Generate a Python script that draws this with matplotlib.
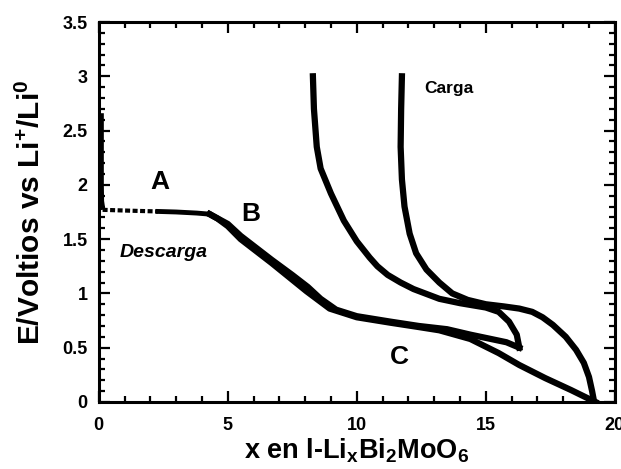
import matplotlib
matplotlib.use("Agg")
import matplotlib.pyplot as plt
from matplotlib.ticker import MultipleLocator, FixedLocator

plt.rcParams['font.family'] = ['Liberation Sans', 'DejaVu Sans']
plt.rcParams['font.weight'] = 'bold'
plt.rcParams['mathtext.fontset'] = 'custom'
plt.rcParams['mathtext.rm'] = 'Liberation Sans:bold'
plt.rcParams['mathtext.it'] = 'Liberation Sans:bold'
plt.rcParams['mathtext.bf'] = 'Liberation Sans:bold'

# ---- data ----
# discharge 1: initial drop at x=0
d1a_x = [0.09, 0.09, 0.09, 0.1, 0.15]
d1a_E = [2.66, 2.3, 2.0, 1.85, 1.77]
# discharge 1: dotted start of plateau A
d1b_x = [0.15, 0.8, 1.5, 2.3]
d1b_E = [1.77, 1.765, 1.76, 1.755]
# discharge 1: thin rest of plateau A
d1c_x = [2.3, 3.0, 3.8, 4.3]
d1c_E = [1.755, 1.75, 1.74, 1.73]
# discharge 1: main part (B, C, end)
d1_x = [4.3, 4.6, 5.0, 5.5, 6.7, 8.05, 8.95, 10.0, 11.3, 12.4, 13.2, 14.4, 15.5, 16.3, 17.3, 18.3, 18.9, 19.25]
d1_E = [1.73, 1.69, 1.62, 1.50, 1.28, 1.02, 0.86, 0.78, 0.73, 0.69, 0.66, 0.58, 0.45, 0.34, 0.22, 0.11, 0.04, 0.0]
# discharge 2
d2_x = [4.3, 5.0, 5.5, 6.7, 7.5, 8.1, 8.6, 9.2, 10.0, 11.3, 12.4, 13.5, 14.4, 15.2, 15.8, 16.3]
d2_E = [1.73, 1.64, 1.53, 1.31, 1.17, 1.06, 0.95, 0.85, 0.79, 0.74, 0.70, 0.67, 0.62, 0.58, 0.55, 0.50]
# charge 1 (outer)
c1_x = [19.2, 19.12, 19.0, 18.8, 18.5, 18.1, 17.6, 17.2, 16.8, 16.3, 15.7, 15.0, 14.3, 13.7, 13.2, 12.7, 12.3, 12.05, 11.85, 11.75, 11.7, 11.72, 11.75]
c1_E = [0.0, 0.10, 0.23, 0.36, 0.48, 0.60, 0.71, 0.78, 0.83, 0.86, 0.88, 0.90, 0.94, 1.00, 1.10, 1.22, 1.37, 1.55, 1.80, 2.05, 2.35, 2.7, 3.0]
# charge 2 (inner)
c2_x = [16.3, 16.2, 15.9, 15.5, 15.0, 14.0, 13.2, 12.2, 11.7, 11.2, 10.8, 10.5, 10.0, 9.5, 9.0, 8.6, 8.45, 8.34, 8.3]
c2_E = [0.50, 0.62, 0.74, 0.83, 0.87, 0.91, 0.95, 1.04, 1.10, 1.17, 1.25, 1.33, 1.48, 1.67, 1.92, 2.15, 2.35, 2.7, 3.0]

x_ticks = [0, 5, 10, 15, 20]
y_ticks = [0, 0.5, 1, 1.5, 2, 2.5, 3, 3.5]
y_tick_labels = ['0', '0.5', '1', '1.5', '2', '2.5', '3', '3.5']

fig = plt.figure(figsize=(6.21, 4.69), dpi=100)
ax = fig.add_axes([0.159, 0.143, 0.831, 0.810])

lw = 4.5
ax.plot(d1a_x, d1a_E, color='black', lw=4, solid_capstyle='butt', clip_on=False)
ax.plot(d1b_x, d1b_E, color='black', lw=3, linestyle=(0, (1.2, 0.6)))
ax.plot(d1c_x, d1c_E, color='black', lw=3.5)
ax.plot(d1_x, d1_E, color='black', lw=lw, solid_joinstyle='round')
ax.plot(d2_x, d2_E, color='black', lw=lw, solid_joinstyle='round')
ax.plot(c1_x, c1_E, color='black', lw=lw, solid_joinstyle='round')
ax.plot(c2_x, c2_E, color='black', lw=lw, solid_joinstyle='round')

ax.set_xlim(0, 20)
ax.set_ylim(0, 3.5)
ax.xaxis.set_major_locator(FixedLocator(x_ticks))
ax.xaxis.set_minor_locator(MultipleLocator(1))
ax.yaxis.set_major_locator(FixedLocator(y_ticks))
ax.yaxis.set_minor_locator(MultipleLocator(0.1))
ax.set_yticklabels(y_tick_labels)

ax.tick_params(which='both', direction='in', top=True, right=True, width=1.6)
ax.tick_params(which='major', length=8)
ax.tick_params(which='minor', length=4.5)
ax.tick_params(axis='x', pad=11, labelsize=13)
ax.tick_params(axis='y', pad=8, labelsize=13)
for lab in ax.get_xticklabels() + ax.get_yticklabels():
    lab.set_fontweight('bold')
for s in ax.spines.values():
    s.set_linewidth(2.2)

ax.set_xlabel('x en l-Li$_x$Bi$_2$MoO$_6$', fontsize=19.5, fontweight='bold', labelpad=2)
ax.set_ylabel('E/Voltios vs Li$^{+}$/Li$^{0}$', fontsize=21.5, fontweight='bold', labelpad=12)

ax.text(2.35, 2.03, 'A', fontsize=19, fontweight='bold', ha='center', va='center')
ax.text(5.9, 1.73, 'B', fontsize=19, fontweight='bold', ha='center', va='center')
ax.text(11.67, 0.41, 'C', fontsize=19, fontweight='bold', ha='center', va='center')
ax.text(12.6, 2.89, 'Carga', fontsize=12.5, fontweight='bold', ha='left', va='center')
ax.text(0.8, 1.38, 'Descarga', fontsize=14, fontweight='bold', style='italic', ha='left', va='center')

fig.savefig('out.png', dpi=100)
